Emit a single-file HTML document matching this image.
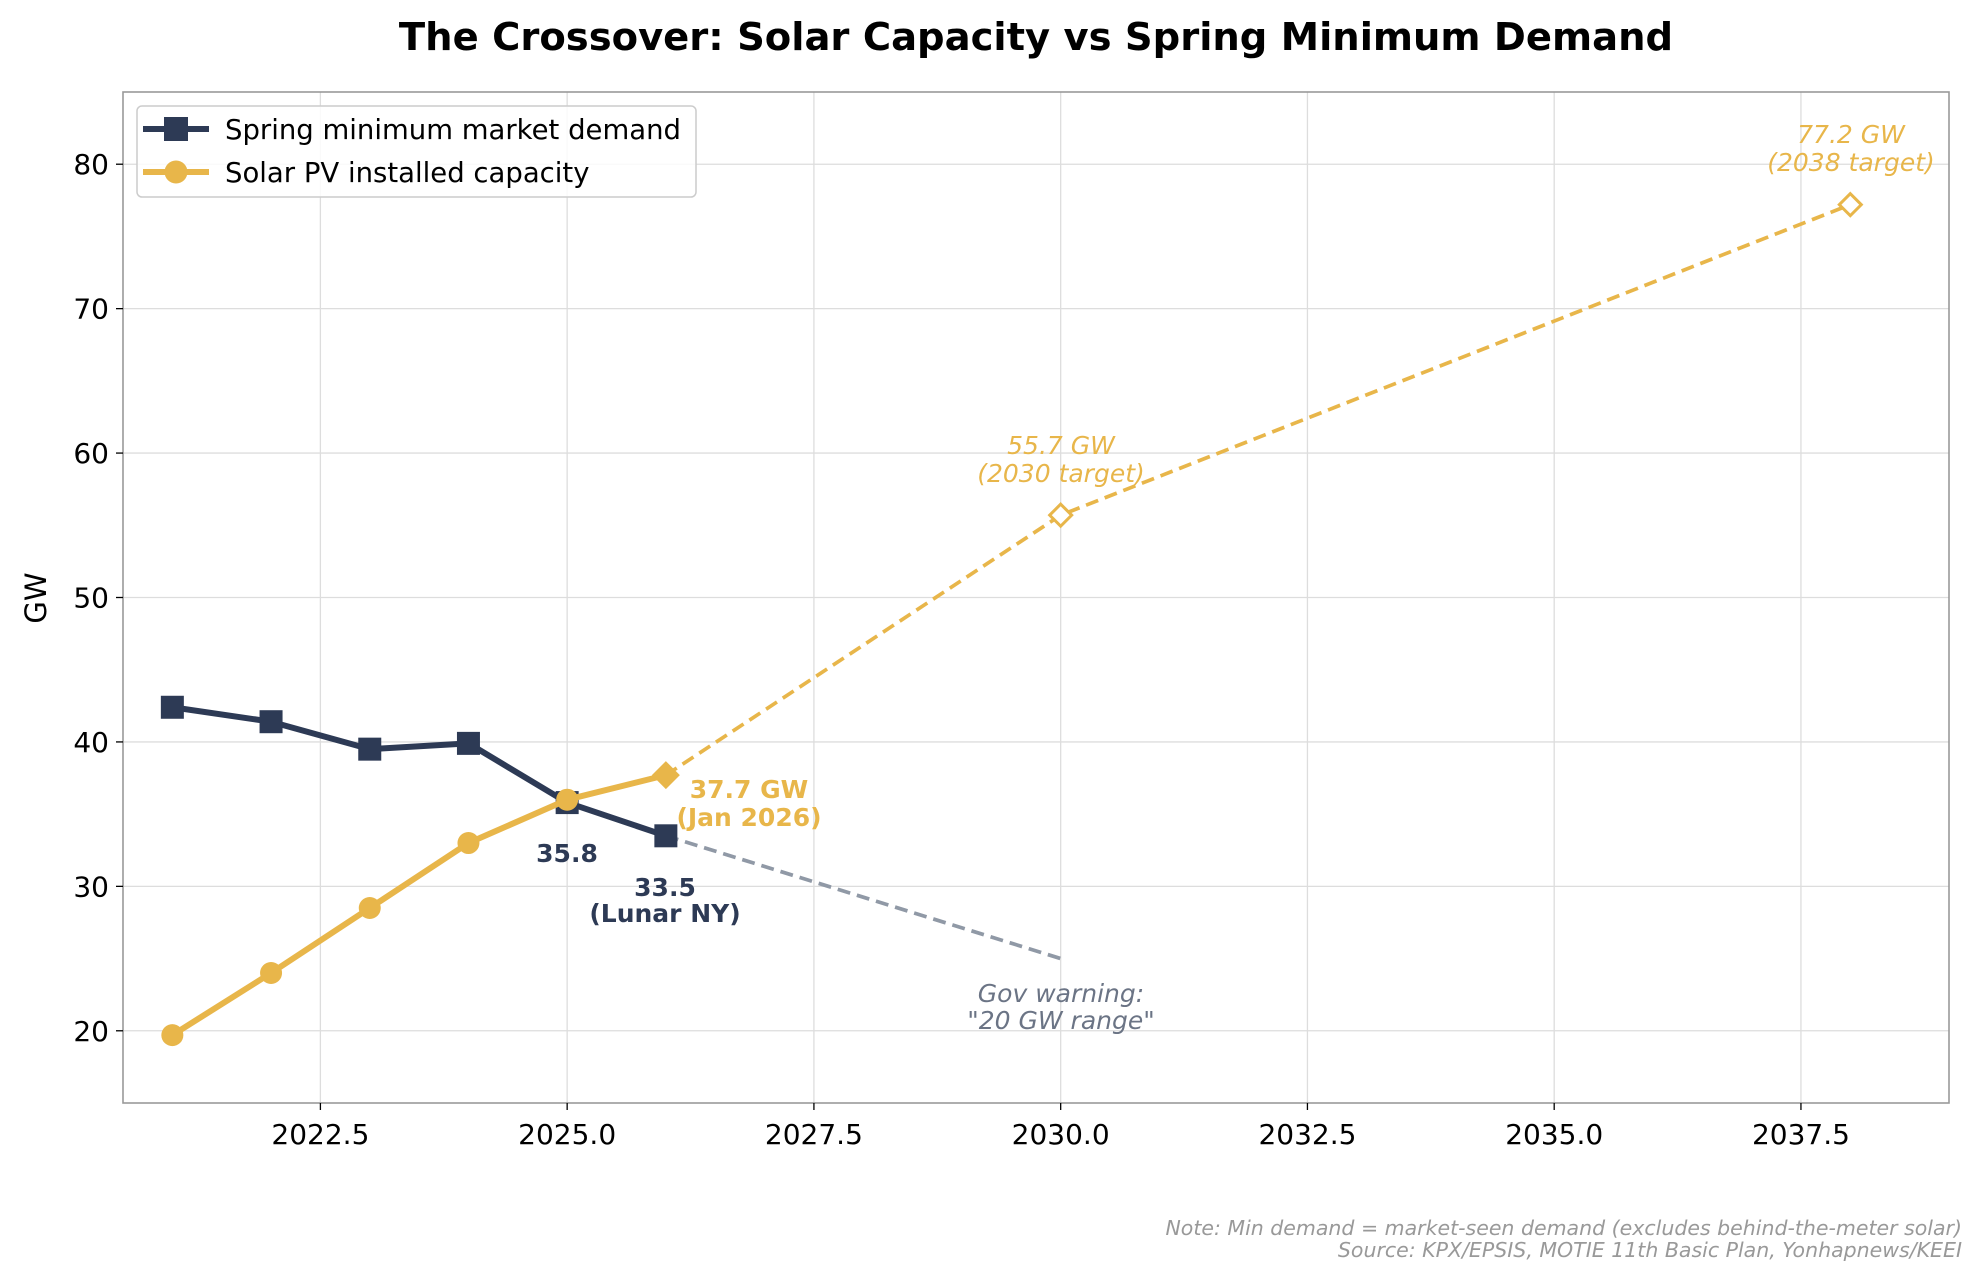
<!DOCTYPE html>
<html><head><meta charset="utf-8">
<style>
html,body{margin:0;padding:0;background:#fff;}
svg{display:block;font-family:"DejaVu Sans","Liberation Sans",sans-serif;}
</style></head>
<body>
<svg id="chart" width="1984" height="1283" viewBox="0 0 1984 1283">
<g id="grid"></g>
<rect x="123" y="92" width="1826" height="1011" fill="none" stroke="#999" stroke-width="1.6"/>
<g id="axes"></g>
<g id="series"></g>
<g id="annot"></g>
<text x="1036" y="50" text-anchor="middle" font-size="38.5" font-weight="bold" fill="#000">The Crossover: Solar Capacity vs Spring Minimum Demand</text>
<text transform="translate(46,598) rotate(-90)" text-anchor="middle" font-size="29" fill="#000">GW</text>
<g>
<rect x="137" y="106" width="559" height="91" rx="5" fill="#fff" fill-opacity="0.85" stroke="#ccc" stroke-width="1.5"/>
<g>
<line x1="143" y1="129" x2="209" y2="129" stroke="#2d3a55" stroke-width="6"/>
<rect x="164" y="117" width="24" height="24" fill="#2d3a55"/>
<text x="225" y="139" font-size="27.5" fill="#000">Spring minimum market demand</text></g>
<g>
<line x1="143" y1="172" x2="209" y2="172" stroke="#e8b64a" stroke-width="6"/>
<circle cx="176" cy="172" r="11.5" fill="#e8b64a"/>
<text x="225" y="182" font-size="27.5" fill="#000">Solar PV installed capacity</text></g>
</g>
<text x="1962" y="1235" text-anchor="end" font-size="20.5" font-style="italic" fill="#999">Note: Min demand = market-seen demand (excludes behind-the-meter solar)</text>
<text x="1962" y="1257" text-anchor="end" font-size="20.5" font-style="italic" fill="#999">Source: KPX/EPSIS, MOTIE 11th Basic Plan, Yonhapnews/KEEI</text>
</svg>
<script>
const years=[2021,2022,2023,2024,2025,2026];
const demand=[42.4,41.4,39.5,39.9,35.8,33.5];
const solar=[19.7,24.0,28.5,33.0,36.0];
const solarJanYear=[2026];const solarJan=[37.7];
const targetYears=[2026,2030,2038];const targetVals=[37.7,55.7,77.2];
const warnYears=[2026,2030];const warnVals=[33.5,25];
const xTicks=[2022.5,2025.0,2027.5,2030.0,2032.5,2035.0,2037.5];
const yTicks=[20,30,40,50,60,70,80];
const X0=123,X1=1949,Y0=1103,Y1=92,xmin=2020.5,xmax=2039.0,ymin=15,ymax=85;
const sx=v=>X0+(v-xmin)/(xmax-xmin)*(X1-X0);
const sy=v=>Y0-(v-ymin)/(ymax-ymin)*(Y0-Y1);
const NS='http://www.w3.org/2000/svg';
function mk(p,t,a){const e=document.createElementNS(NS,t);for(const k in a)e.setAttribute(k,a[k]);p.appendChild(e);return e;}
const grid=document.getElementById('grid'),axes=document.getElementById('axes'),ser=document.getElementById('series'),an=document.getElementById('annot');
xTicks.forEach(t=>{const x=sx(t);
 const g=mk(grid,'line',{x1:x,x2:x,y1:Y1,y2:Y0,stroke:'#ddd','stroke-width':1.3});
 
 const tk=mk(axes,'line',{x1:x,x2:x,y1:Y0,y2:Y0+7,stroke:'#000','stroke-width':1.3});
 
 const l=mk(axes,'text',{x:x,y:Y0+41,'text-anchor':'middle','font-size':28,fill:'#000'});l.textContent=t.toFixed(1);
 });
yTicks.forEach(t=>{const y=sy(t);
 const g=mk(grid,'line',{x1:X0,x2:X1,y1:y,y2:y,stroke:'#ddd','stroke-width':1.3});
 
 const tk=mk(axes,'line',{x1:X0-7,x2:X0,y1:y,y2:y,stroke:'#000','stroke-width':1.3});
 
 const l=mk(axes,'text',{x:X0-14,y:y+10,'text-anchor':'end','font-size':28,fill:'#000'});l.textContent=t;
 });
const pts=(xs,ys)=>xs.map((x,i)=>sx(x)+','+sy(ys[i])).join(' ');
let e;
e=mk(ser,'polyline',{points:pts(warnYears,warnVals),fill:'none',stroke:'#9099a6','stroke-width':3.7,'stroke-dasharray':'13,7'});

e=mk(ser,'polyline',{points:pts(targetYears,targetVals),fill:'none',stroke:'#e8b64a','stroke-width':3.7,'stroke-dasharray':'13,7'});

e=mk(ser,'polyline',{points:pts(years,demand),fill:'none',stroke:'#2d3a55','stroke-width':6,'stroke-linejoin':'round'});

years.forEach((y,i)=>{const m=mk(ser,'rect',{x:sx(y)-11.5,y:sy(demand[i])-11.5,width:23,height:23,fill:'#2d3a55'});
 });
e=mk(ser,'polyline',{points:pts(solar.map((_,i)=>years[i]).concat(solarJanYear),solar.concat(solarJan)),fill:'none',stroke:'#e8b64a','stroke-width':6,'stroke-linejoin':'round'});

solar.forEach((v,i)=>{const m=mk(ser,'circle',{cx:sx(years[i]),cy:sy(v),r:11,fill:'#e8b64a'});
 });
solarJan.forEach((v,i)=>{const x=sx(solarJanYear[i]),y=sy(v);
 const m=mk(ser,'polygon',{points:`${x},${y-14} ${x+14},${y} ${x},${y+14} ${x-14},${y}`,fill:'#e8b64a'});
 });
targetYears.slice(1).forEach((yr,i)=>{const x=sx(yr),y=sy(targetVals[i+1]);
 const m=mk(ser,'polygon',{points:`${x},${y-11} ${x+11},${y} ${x},${y+11} ${x-11},${y}`,fill:'#fff',stroke:'#e8b64a','stroke-width':3});
 });
function txt(x,y,s,o){const t=mk(an,'text',Object.assign({x:x,y:y,'text-anchor':'middle','font-size':25},o));t.textContent=s;return t;}
const B={'font-weight':'bold',fill:'#2d3a55'},G={'font-weight':'bold',fill:'#e8b64a'},I={'font-style':'italic',fill:'#e8b64a'},W={'font-style':'italic',fill:'#6b7485'};
e=txt(567,862,'35.8',B);
e=txt(665,896,'33.5',B);
e=txt(665,922,'(Lunar NY)',B);
e=txt(749,798,'37.7 GW',G);
e=txt(749,826,'(Jan 2026)',G);
e=txt(1061,454,'55.7 GW',I);
e=txt(1061,482,'(2030 target)',I);
e=txt(1851,143,'77.2 GW',I);
e=txt(1851,171,'(2038 target)',I);
e=txt(1061,1002,'Gov warning:',W);
e=txt(1061,1029,'"20 GW range"',W);
</script>
</body></html>
